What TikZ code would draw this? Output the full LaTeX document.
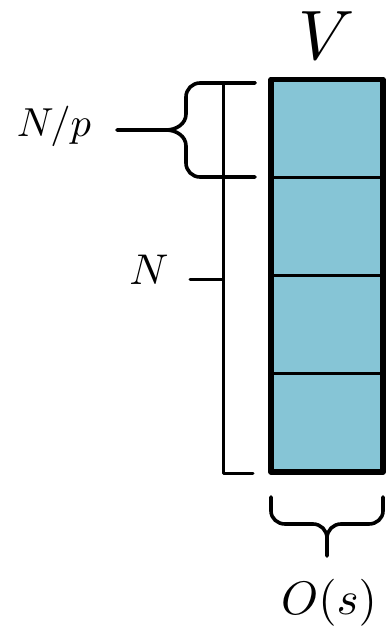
\documentclass[tikz,border=0pt]{standalone}
\definecolor{cellblue}{RGB}{134,197,214}
\begin{document}
\begin{tikzpicture}[x=1pt,y=-1pt,
  lbl/.style={inner sep=0pt},
  bracketline/.style={line width=3pt, line cap=round, line join=round},
  braceline/.style={line width=3.6pt, line cap=round, line join=round},
  divider/.style={line width=3pt},
  frame/.style={line width=5.5pt, line join=round}]
\useasboundingbox (0,0) rectangle (388,630);

% the vector V, split into four blocks
\coordinate (tl) at (271,79.5);
\coordinate (br) at (383,472);
\fill[cellblue] (tl) rectangle (br);
\foreach \y [count=\i] in {177.6,275.7,373.9}
  \draw[divider] (271,\y) coordinate (dl\i) -- (383,\y) coordinate (dr\i);
\draw[frame] (tl) rectangle (br);

% labels
\node[lbl, scale=7] (v) at (327,36) {$V$};
\node[lbl, scale=4.05] (np) at (54,126) {$N/p$};
\node[lbl, scale=4.3] (n) at (149,270) {$N$};
\node[lbl, scale=4.7] (os) at (329,603) {$O(s)$};

% square bracket spanning the whole vector
\coordinate (bt) at (255,82.5);
\coordinate (bb) at (253,473);
\coordinate (bm) at (223,279);
\draw[bracketline] (bt) -- (223,82.5) -- (223,473) -- (bb);
\draw[bracketline] (bm) -- (190,279) coordinate (nt);

% curly brace over one block
\coordinate (ct) at (255,83);
\coordinate (cb) at (255,177);
\coordinate (ctip) at (117,130);
\draw[braceline] (ct) -- (200,83) to[out=180,in=90] (186,97) -- (186,114)
  to[out=-90,in=0] (166,130) -- (ctip);
\draw[braceline] (cb) -- (200,177) to[out=180,in=-90] (186,163) -- (186,146)
  to[out=90,in=0] (166,130);

% curly brace under the vector
\coordinate (ul) at (271,497);
\coordinate (ur) at (383,497);
\coordinate (utip) at (327,556);
\draw[braceline] (ul) -- (271,511) to[out=-90,in=180] (285,524) -- (313,524)
  to[out=0,in=90] (327,538) -- (utip);
\draw[braceline] (ur) -- (383,511) to[out=-90,in=0] (369,524) -- (341,524)
  to[out=180,in=90] (327,538);
\end{tikzpicture}
\end{document}
